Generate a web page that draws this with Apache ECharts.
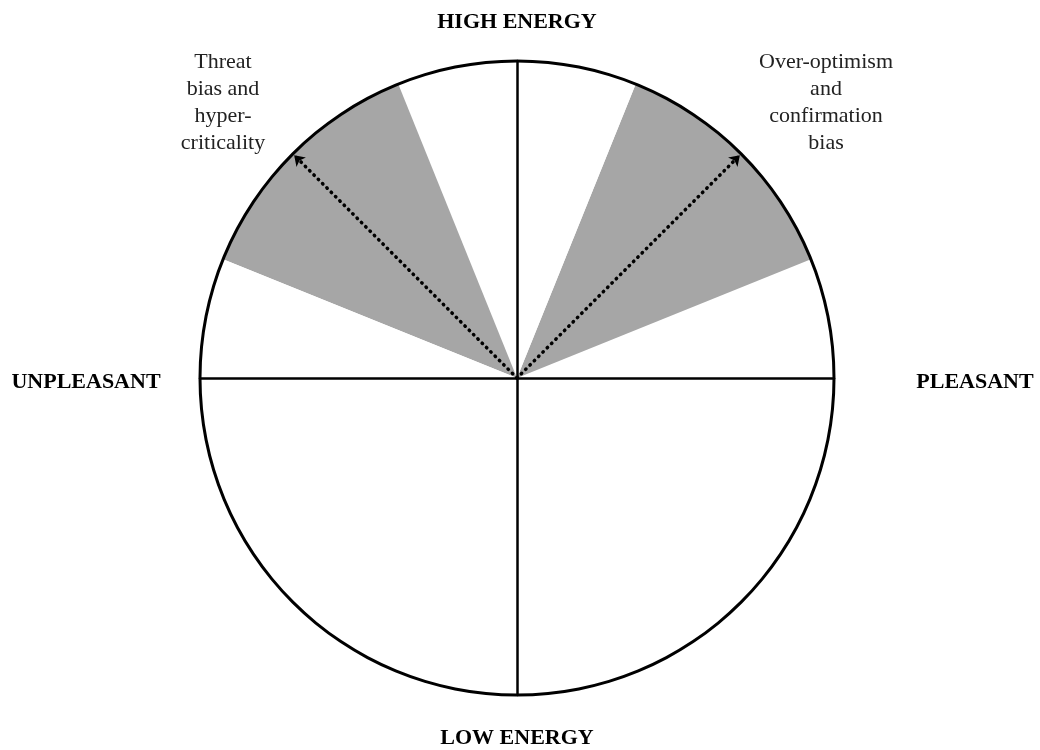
<!DOCTYPE html>
<html>
<head>
<meta charset="utf-8">
<script src="https://cdn.jsdelivr.net/npm/echarts@6/dist/echarts.min.js"></script>
<style>
  html, body { margin: 0; padding: 0; background: #fff; }
  #chart { width: 1040px; height: 750px; }
</style>
</head>
<body>
<div id="chart"></div>
<script>
// Wedges of the circumplex, counter-clockwise from the PLEASANT axis (degrees)
const wedgeSpans = [22, 46, 44, 46, 202];
const wedgeColors = ['#ffffff', '#a6a6a6', '#ffffff', '#a6a6a6', '#ffffff'];
// Dotted arrows from the origin to the rim (x = pleasantness, y = energy)
const arrowTips = [[0.703, 0.703], [-0.703, 0.703]];
const axisLabels = ['HIGH ENERGY', 'LOW ENERGY', 'UNPLEASANT', 'PLEASANT'];
const notes = ['Threat\nbias and\nhyper-\ncriticality', 'Over-optimism\nand\nconfirmation\nbias'];

const SERIF = '"Liberation Serif", "DejaVu Serif", serif';
const cx = 517, cy = 378, R = 317;

const chart = echarts.init(document.getElementById('chart'), null, { renderer: 'canvas' });
chart.setOption({
  backgroundColor: '#fff',
  animation: false,
  grid: { left: cx - R, top: cy - R, width: 2 * R, height: 2 * R },
  xAxis: { type: 'value', min: -1, max: 1, axisLine: { onZero: true, lineStyle: { color: '#000', width: 2.5 } },
    axisTick: { show: false }, axisLabel: { show: false }, splitLine: { show: false }, z: 5 },
  yAxis: { type: 'value', min: -1, max: 1, axisLine: { onZero: true, lineStyle: { color: '#000', width: 2.5 } },
    axisTick: { show: false }, axisLabel: { show: false }, splitLine: { show: false }, z: 5 },
  series: [
    { type: 'pie', center: [cx, cy], radius: [0, R], startAngle: 0, clockwise: false,
      silent: true, label: { show: false }, labelLine: { show: false }, z: 1,
      data: wedgeSpans.map((v, i) => ({ value: v, itemStyle: { color: wedgeColors[i], borderWidth: 0 } })) },
    { type: 'pie', center: [cx, cy], radius: [R - 1.5, R + 1.5], silent: true, z: 6,
      label: { show: false }, labelLine: { show: false },
      data: [{ value: 1, itemStyle: { color: '#000' } }] },
    { type: 'lines', coordinateSystem: 'cartesian2d', z: 7, silent: true,
      symbol: ['none', 'arrow'], symbolSize: 10,
      lineStyle: { color: '#000', width: 3.5, type: [0.5, 5.6], cap: 'round', opacity: 1 },
      data: arrowTips.map(t => ({ coords: [[0, 0], t] })) }
  ],
  graphic: [
    { type: 'text', x: cx, y: 22, style: { text: axisLabels[0], font: 'bold 22px ' + SERIF, fill: '#000', textAlign: 'center', textVerticalAlign: 'middle' } },
    { type: 'text', x: cx, y: 738, style: { text: axisLabels[1], font: 'bold 22px ' + SERIF, fill: '#000', textAlign: 'center', textVerticalAlign: 'middle' } },
    { type: 'text', x: 86, y: 382, style: { text: axisLabels[2], font: 'bold 22px ' + SERIF, fill: '#000', textAlign: 'center', textVerticalAlign: 'middle' } },
    { type: 'text', x: 975, y: 382, style: { text: axisLabels[3], font: 'bold 22px ' + SERIF, fill: '#000', textAlign: 'center', textVerticalAlign: 'middle' } },
    { type: 'text', x: 223, y: 49, style: { text: notes[0], font: '22px ' + SERIF, lineHeight: 26.8, fill: '#222', textAlign: 'center' } },
    { type: 'text', x: 826, y: 49, style: { text: notes[1], font: '22px ' + SERIF, lineHeight: 26.8, fill: '#222', textAlign: 'center' } }
  ]
});
</script>
</body>
</html>
